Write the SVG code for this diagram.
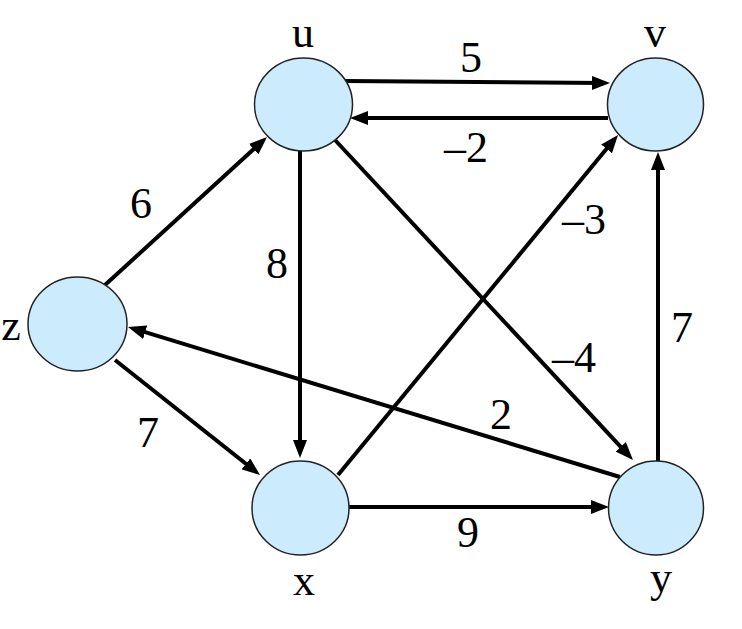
<svg xmlns="http://www.w3.org/2000/svg" width="742" height="629" viewBox="0 0 742 629">
<style>
.node{fill:#CCEBFC;stroke:#222;stroke-width:1.5}
.edge{stroke:#000;stroke-width:4;fill:none;marker-end:url(#arr)}
.lbl{font-family:'Liberation Serif','DejaVu Serif',serif;font-size:44px;fill:#000;text-anchor:middle}
</style>
<defs>
<marker id="arr" markerUnits="userSpaceOnUse" markerWidth="18" markerHeight="14" refX="12" refY="7" orient="auto">
<path d="M0,0 L18,7 L0,14 z" fill="#000"/>
</marker>
</defs>
<g id="connectors">
<path class="edge" d="M345,81 L604,83"/>
<path class="edge" d="M608,118 L356,118"/>
<path class="edge" d="M105,285 L262.6,141"/>
<path class="edge" d="M300,151 L300,452"/>
<path class="edge" d="M335,140 L628.9,455.6"/>
<path class="edge" d="M338,475 L614.2,139.6"/>
<path class="edge" d="M658,461 L658,158"/>
<path class="edge" d="M620,477 L133.7,328.7"/>
<path class="edge" d="M115,360 L255.3,471.3"/>
<path class="edge" d="M349,507 L603,507"/>
<g class="lbl" font-family="Liberation Serif, DejaVu Serif, serif">
<text x="471" y="72">5</text>
<text x="466" y="162">–2</text>
<text x="141" y="218">6</text>
<text x="277" y="278">8</text>
<text x="584" y="234">–3</text>
<text x="574" y="372">–4</text>
<text x="682" y="342">7</text>
<text x="501" y="429">2</text>
<text x="148" y="447">7</text>
<text x="468" y="547">9</text>
</g>
</g>
<g id="node-u"><ellipse class="node" cx="303.5" cy="104.5" rx="49" ry="46.5"/><text class="lbl" x="303" y="47">u</text></g>
<g id="node-v"><ellipse class="node" cx="655.5" cy="104.5" rx="48" ry="46.5"/><text class="lbl" x="655" y="47">v</text></g>
<g id="node-z"><ellipse class="node" cx="77.5" cy="324" rx="49.5" ry="47"/><text class="lbl" x="11" y="340">z</text></g>
<g id="node-x"><ellipse class="node" cx="300.5" cy="508" rx="48.5" ry="47"/><text class="lbl" x="304" y="595">x</text></g>
<g id="node-y"><ellipse class="node" cx="656" cy="508" rx="47.5" ry="47"/><text class="lbl" x="661" y="592">y</text></g>
</svg>
